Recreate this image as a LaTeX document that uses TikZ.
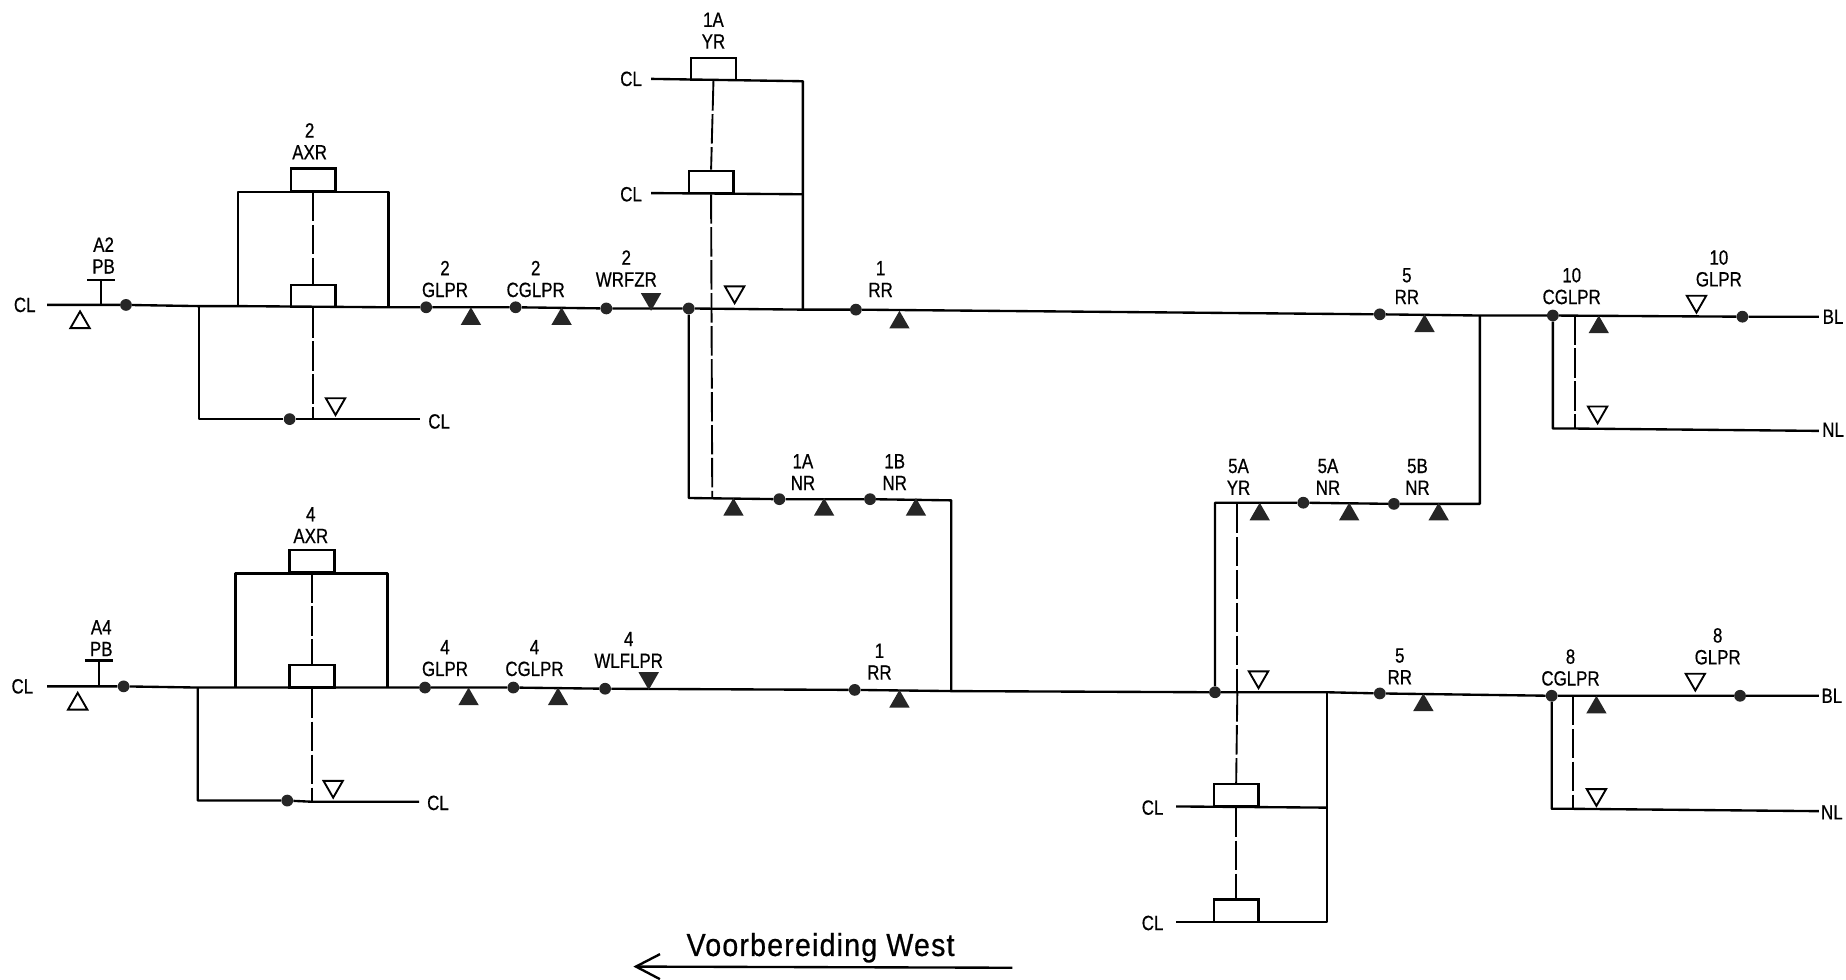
\documentclass[tikz,border=0pt]{standalone}
\usepackage{fontspec}
\setmainfont{Liberation Sans}[FakeStretch=0.82, FakeBold=0.6]
\newfontfamily\dirfont{Liberation Sans}[FakeStretch=0.9, LetterSpace=3.7, FakeBold=0.6]
\usetikzlibrary{arrows.meta, positioning, shapes.geometric}
\tikzset{
    wire/.style={line width=2pt, line join=round},
    link/.style={line width=1.6pt, dash pattern=on 25pt off 3pt},
    junc/.style={circle, fill=black!85, inner sep=0pt, minimum size=10pt},
    relay/.style={rectangle, draw, line width=2pt, anchor=south, inner sep=0pt,
        minimum width=38pt, minimum height=19pt, yshift=-1pt},
    tri/.style={regular polygon, regular polygon sides=3, inner sep=0pt, minimum size=20pt},
    openup/.style={tri, draw, line width=1.6pt, minimum size=19pt},
    opendown/.style={openup, shape border rotate=180},
    solidup/.style={tri, fill=black!85},
    soliddown/.style={solidup, shape border rotate=180},
    lbl/.style={align=center, inner sep=0pt, font=\fontsize{17.5}{18.5}\selectfont},
    dir/.style={line width=2pt, -{Straight Barb[angle=55:17pt 3]}},
}
\begin{document}
\begin{tikzpicture}[x=1pt, y=-1pt]
    \useasboundingbox (0,0) rectangle (1568,832.4);

    % dots on the lines
    \foreach \n/\x/\y in {a1/107/259, a2/362/261, a3/438/261, a4/515/262, a5/585/262,
            a6/727/263, a7/1172/267, a8/1319/268, a9/1480/269,
            b1/105/583, b2/361/584, b3/436/584, b4/514/585, b5/726/586,
            b6/1032/588, b7/1172/589, b8/1318/591, b9/1478/591,
            c1/246/356, c2/244/680, m1/662/424, m2/739/424, n1/1107/427, n2/1184/428}
        \node[junc] (\n) at (\x,\y) {};

    % free ends and corners
    \foreach \n/\x/\y in {as/40/259, at/86/259, aj/169/260, al/202/260, ar/330/261,
            av/682/263, aw/1257/268, ae/1545/269, af/1545/366, ag/1319/364,
            ah/1338/364, ak/1338/268, ad/266/356, az/357/356,
            bs/40/583, bt/84/583, bj/168/584, bl/200/584, br/329/584, bv/808/587,
            bw/1127/588, be/1545/591, bf/1545/689, bg/1318/687, bh/1336/687,
            bk/1336/591, bd/265/681, bz/356/681,
            y1/553/67, y2/682/69, y3/553/164, y4/682/165, yd/605/423, yc/605/262,
            mc/585/423, ms/808/425, nc/1032/427, ne/1257/428,
            z1/999/685, z2/1127/686, z3/999/783, z4/1127/783, zd/1051/428, zc/1051/588,
            pa/86/238, pb/84/561, da/860/822, db/538/821}
        \coordinate (\n) at (\x,\y);

    % relays
    \node[relay] (xa) at (266,261) {};
    \node[relay] (xb) at (266,162) {};
    \node[relay] (xc) at (265,584) {};
    \node[relay] (xd) at (265,486) {};
    \node[relay] (ya) at (606,68) {};
    \node[relay] (yb) at (604,164) {};
    \node[relay] (za) at (1050,685) {};
    \node[relay] (zb) at (1050,783) {};

    % main lines
    \draw[wire] (as) -- (at) -- (a1) -- (aj) -- (al) -- (ar) -- (a2) -- (a3) -- (a4) -- (a5)
        -- (av) -- (a6) -- (a7) -- (aw) -- (a8) -- (a9) -- (ae);
    \draw[wire] (bs) -- (bt) -- (b1) -- (bj) -- (bl) -- (br) -- (b2) -- (b3) -- (b4) -- (b5)
        -- (bv) -- (b6) -- (bw) -- (b7) -- (b8) -- (b9) -- (be);

    % branches
    \draw[wire] (at) -- (pa);
    \draw[wire] (bt) -- (pb);
    \draw[wire] (al) |- (xb.south) -| (ar);
    \draw[wire] (bl) |- (xd.south) -| (br);
    \draw[wire] (aj) |- (c1) -- (ad) -- (az);
    \draw[wire] (bj) |- (c2) -- (bd) -- (bz);
    \draw[wire] (y1) -- (y2) -- (av);
    \draw[wire] (y3) -- (y4);
    \draw[wire] (a5) -- (mc) -- (m1) -- (m2) -- (ms) -- (bv);
    \draw[wire] (b6) -- (nc) -- (n1) -- (n2) -- (ne) -- (aw);
    \draw[wire] (z1) -- (z2);
    \draw[wire] (z3) -- (z4) -- (bw);
    \draw[wire] (a8) -- (ag) -- (ah) -- (af);
    \draw[wire] (b8) -- (bg) -- (bh) -- (bf);
    \draw[wire] ([xshift=-12pt]pa.center) -- ([xshift=12pt]pa.center);
    \draw[wire] ([xshift=-12pt]pb.center) -- ([xshift=12pt]pb.center);

    % mechanical links
    \draw[link] (xb.south) -- (xa.north);
    \draw[link] (xa.south) -- (ad);
    \draw[link] (xd.south) -- (xc.north);
    \draw[link] (xc.south) -- (bd);
    \draw[link] (ya.south) -- (yb.north);
    \draw[link] (yb.south) -- (yd);
    \draw[link] (zc) -- (za.north);
    \draw[link] (za.south) -- (zb.north);
    \draw[link] (zd) -- (zc);
    \draw[link] (ak) -- (ah);
    \draw[link] (bk) -- (bh);

    % signs
    \foreach \x/\y [count=\i] in {400/271, 477/271, 764/274, 1210/277, 1358/278,
            623/433, 700/433, 778/433, 1070/437, 1146/437, 1222/437,
            398/594, 474/594, 764/596, 1209/599, 1356/601}
        \node[solidup] (su\i) at (\x,\y) {};
    \foreach \x/\y [count=\i] in {553/254, 551/576}
        \node[soliddown] (sd\i) at (\x,\y) {};
    \foreach \x/\y [count=\i] in {68/274, 66/598}
        \node[openup] (ou\i) at (\x,\y) {};
    \foreach \x/\y [count=\i] in {285/343, 624/248, 1357/350, 1441/256,
            283/668, 1069/575, 1356/675, 1440/577}
        \node[opendown] (od\i) at (\x,\y) {};

    % labels
    \foreach \x/\y/\t [count=\i] in {88/217/A2\\PB, 263/120/2\\AXR, 378/237/2\\GLPR,
            455/237/2\\CGLPR, 532/228/2\\WRFZR, 606/26/1A\\YR, 748/237/1\\RR,
            682/401/1A\\NR, 760/401/1B\\NR, 1195/243/5\\RR, 1335/243/10\\CGLPR,
            1460/228/10\\GLPR, 86/542/A4\\PB, 264/446/4\\AXR, 378/559/4\\GLPR,
            454/559/4\\CGLPR, 534/552/4\\WLFLPR, 747/562/1\\RR, 1052/405/5A\\YR,
            1128/405/5A\\NR, 1204/405/5B\\NR, 1189/566/5\\RR, 1334/567/8\\CGLPR,
            1459/549/8\\GLPR}
        \node[lbl] (t\i) at (\x,\y) {\t};
    \foreach \x/\y/\t [count=\i] in {21/259/CL, 373/358/CL, 536/67/CL, 536/165/CL,
            19/583/CL, 372/682/CL, 979/686/CL, 979/784/CL,
            1557/269/BL, 1557/365/NL, 1556/591/BL, 1556/690/NL}
        \node[lbl] (e\i) at (\x,\y) {\t};

    % direction
    \node[inner sep=0pt, font=\dirfont\fontsize{27}{28}\selectfont] (dirtext) at (697,805) {Voorbereiding West};
    \draw[dir] (da) -- (db);
\end{tikzpicture}
\end{document}
